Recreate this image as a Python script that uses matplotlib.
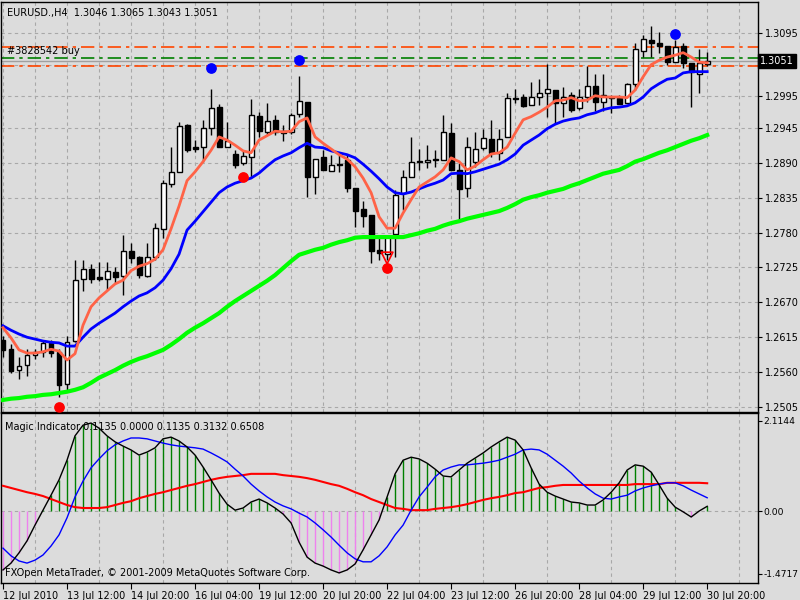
import matplotlib
matplotlib.use("Agg")
import matplotlib.pyplot as plt
import numpy as np

# ---------------- data (prices in pips, 1e-4) ----------------
opens = [12611,12596,12563,12571,12587,12592,12606,12592,12541,12609,
         12707,12723,12710,12707,12718,12712,12751,12742,12712,12742,
         12786,12857,12876,12950,12915,12915,12945,12978,12915,12904,
         12890,12899,12964,12939,12958,12940,12939,12967,12986,12868,
         12899,12877,12888,12895,12850,12817,12808,12753,12746,12778,
         12842,12868,12893,12891,12896,12895,12937,12879,12850,12891,
         12914,12928,12906,12931,12992,12994,12981,12994,13000,13005,
         12985,12997,12977,12994,13011,12986,12994,12992,12985,13015,
         13067,13084,13079,13074,13049,13074,13048,13030,13046]
highs = [12617,12604,12584,12596,12596,12611,12611,12596,12617,12737,
         12737,12730,12734,12734,12726,12776,12764,12743,12764,12795,
         12863,12915,12955,12951,12926,12958,13007,12983,12955,12910,
         12910,12991,12970,12985,12966,12950,12969,13027,12986,12896,
         12910,12902,12902,12902,12850,12830,12808,12772,12775,12847,
         12879,12931,12912,12918,12910,12966,12953,12890,12931,12939,
         12944,12958,12944,13000,13007,12999,13018,13022,13046,13005,
         13010,13002,13007,13043,13030,13030,12997,12997,13016,13079,
         13092,13106,13097,13074,13084,13079,13048,13070,13065]
lows = [12584,12558,12549,12554,12581,12584,12584,12521,12532,12607,
        12688,12701,12704,12689,12701,12682,12732,12708,12710,12737,
        12771,12852,12876,12907,12907,12891,12934,12915,12915,12882,
        12887,12868,12931,12934,12934,12925,12936,12962,12836,12841,
        12879,12877,12876,12844,12789,12789,12732,12737,12737,12742,
        12816,12868,12879,12882,12884,12895,12879,12800,12836,12884,
        12910,12899,12895,12931,12985,12978,12981,12981,12962,12953,
        12962,12970,12974,12986,12972,12972,12969,12983,12985,13005,
        13057,13057,13063,13044,13049,13040,12978,13000,13043]
closes = [12595,12562,12569,12587,12592,12606,12590,12539,12607,12705,
          12723,12707,12707,12719,12710,12751,12740,12713,12742,12787,
          12858,12876,12948,12910,12912,12945,12977,12915,12925,12887,
          12901,12966,12940,12956,12939,12937,12966,12988,12868,12896,
          12879,12887,12887,12850,12814,12806,12751,12748,12775,12839,
          12868,12891,12891,12895,12895,12939,12879,12849,12915,12912,
          12929,12906,12928,12992,12991,12980,12994,13000,13007,12985,
          12994,12974,12994,13011,12986,12997,12992,12983,13015,13070,
          13086,13079,13074,13049,13073,13048,13034,13048,13051]
ma_fast = [12630,12614,12595,12590,12590,12592,12596,12593,12579,12589,
           12634,12663,12677,12688,12699,12705,12720,12727,12731,12738,
           12753,12786,12822,12862,12876,12892,12910,12931,12926,12918,
           12909,12906,12926,12933,12940,12939,12940,12955,12961,12931,
           12921,12912,12903,12896,12884,12866,12843,12805,12787,12787,
           12811,12832,12852,12860,12868,12879,12898,12892,12879,12885,
           12895,12904,12906,12915,12937,12958,12963,12970,12978,12988,
           12989,12993,12988,12989,12996,12994,12994,12994,12993,13005,
           13026,13045,13052,13057,13060,13064,13057,13049,13048]
ma_mid = [12633,12626,12620,12615,12612,12609,12607,12606,12601,12601,
          12615,12628,12637,12645,12653,12663,12672,12680,12685,12693,
          12705,12723,12746,12784,12798,12813,12828,12843,12852,12858,
          12862,12866,12874,12885,12895,12901,12906,12914,12921,12915,
          12914,12909,12906,12903,12898,12888,12877,12865,12852,12843,
          12841,12844,12849,12854,12858,12863,12873,12874,12873,12876,
          12880,12884,12888,12895,12904,12918,12926,12934,12944,12951,
          12956,12959,12961,12966,12969,12974,12977,12978,12980,12985,
          12994,13007,13015,13022,13024,13032,13034,13034,13034]
ma_slow = [12516,12518,12519,12521,12522,12524,12525,12527,12529,12532,
           12536,12543,12551,12557,12563,12570,12576,12581,12585,12590,
           12595,12603,12612,12622,12630,12637,12645,12653,12663,12672,
           12680,12688,12696,12704,12713,12724,12735,12745,12749,12753,
           12756,12761,12765,12768,12772,12773,12773,12773,12773,12773,
           12773,12776,12779,12783,12786,12791,12795,12798,12802,12805,
           12808,12811,12814,12819,12825,12832,12836,12839,12843,12846,
           12849,12854,12858,12863,12868,12873,12876,12879,12885,12892,
           12896,12901,12906,12910,12915,12920,12925,12929,12934]
up_dots_idx = [26, 37, 84]
up_dots_px = [13040, 13052, 13093]
dn_dots_idx = [7, 30, 48]
dn_dots_px = [12505, 12868, 12724]
arrow_idx = [48]
arrow_px = [12740]
order_tp, order_open, order_sl, bid = 13073, 13056, 13043, 13051

ind_main = [-1.38,-1.22,-0.98,-0.70,-0.33,0.02,0.37,0.73,1.19,1.76,
            2.01,2.06,1.94,1.76,1.62,1.52,1.43,1.31,1.38,1.48,
            1.69,1.73,1.64,1.50,1.31,1.03,0.73,0.42,0.16,0.02,
            0.07,0.21,0.28,0.19,0.07,-0.07,-0.28,-0.73,-1.08,-1.22,
            -1.29,-1.38,-1.45,-1.38,-1.24,-0.91,-0.56,-0.21,0.33,0.87,
            1.19,1.26,1.22,1.12,0.98,0.82,0.80,0.96,1.12,1.24,
            1.36,1.50,1.62,1.73,1.66,1.43,1.01,0.63,0.44,0.35,
            0.28,0.21,0.19,0.14,0.14,0.26,0.44,0.66,0.96,1.08,
            1.05,0.91,0.61,0.30,0.09,-0.02,-0.14,0.00,0.11]
ind_signal = [-0.87,-1.05,-1.17,-1.22,-1.15,-1.03,-0.82,-0.56,-0.16,0.33,
              0.70,1.01,1.22,1.41,1.55,1.64,1.71,1.71,1.69,1.64,
              1.59,1.55,1.52,1.50,1.48,1.45,1.36,1.26,1.15,0.98,
              0.82,0.63,0.47,0.33,0.21,0.12,0.05,-0.05,-0.14,-0.28,
              -0.44,-0.61,-0.80,-0.98,-1.12,-1.19,-1.19,-1.05,-0.84,-0.56,
              -0.33,0.02,0.33,0.56,0.80,0.96,1.03,1.08,1.08,1.10,
              1.12,1.15,1.19,1.26,1.33,1.43,1.45,1.43,1.33,1.19,
              1.05,0.89,0.70,0.54,0.40,0.30,0.28,0.33,0.37,0.47,
              0.54,0.59,0.63,0.66,0.66,0.59,0.49,0.40,0.31]
ind_slow = [0.59,0.54,0.49,0.44,0.40,0.35,0.28,0.21,0.14,0.09,
            0.07,0.07,0.07,0.09,0.14,0.19,0.23,0.30,0.35,0.40,
            0.44,0.49,0.54,0.59,0.63,0.68,0.73,0.77,0.80,0.82,
            0.84,0.87,0.87,0.87,0.87,0.84,0.82,0.80,0.77,0.73,
            0.68,0.63,0.59,0.52,0.44,0.37,0.28,0.21,0.14,0.07,
            0.05,0.02,0.02,0.02,0.05,0.07,0.09,0.12,0.16,0.21,
            0.26,0.30,0.33,0.37,0.42,0.44,0.49,0.54,0.56,0.59,
            0.61,0.61,0.61,0.61,0.61,0.61,0.61,0.61,0.61,0.63,
            0.63,0.63,0.63,0.66,0.66,0.66,0.66,0.66,0.65]

price_ticks = [1.3095, 1.2995, 1.2945, 1.2890, 1.2835, 1.2780,
               1.2725, 1.2670, 1.2615, 1.2560, 1.2505]
ind_ticks = [2.1144, 0.0, -1.4717]
ind_tick_labels = ["2.1144", "0.00", "-1.4717"]
date_labels = ["12 Jul 2010", "13 Jul 12:00", "14 Jul 20:00", "16 Jul 04:00",
               "19 Jul 12:00", "20 Jul 20:00", "22 Jul 04:00", "23 Jul 12:00",
               "26 Jul 20:00", "28 Jul 04:00", "29 Jul 12:00", "30 Jul 20:00"]

# ---------------- drawing ----------------
BG = "#dcdcdc"
GRID = "#a8a8a8"
FS = 7
P = lambda v: np.asarray(v, dtype=float) / 10000.0

fig = plt.figure(figsize=(8, 6), dpi=100, facecolor=BG)
W, H = 800.0, 600.0
def box(x0, y0, x1, y1):
    return [x0 / W, 1 - y1 / H, (x1 - x0) / W, (y1 - y0) / H]
ax = fig.add_axes(box(1, 2, 758, 412))
ax2 = fig.add_axes(box(1, 413, 758, 583))
for a in (ax, ax2):
    a.set_facecolor(BG)
    for s in a.spines.values():
        s.set_color("black"); s.set_linewidth(1)

n = len(closes)
xs = np.arange(n)
xlim = (-0.25, 94.35)

o, h, l, c = P(opens), P(highs), P(lows), P(closes)
for i in range(n):
    ax.vlines(i, l[i], h[i], color="black", lw=1, zorder=3)
    lo, hi = min(o[i], c[i]), max(o[i], c[i])
    fc = "white" if c[i] >= o[i] else "black"
    ax.bar(i, max(hi - lo, 0.00002), bottom=lo, width=0.62, color=fc,
           edgecolor="black", linewidth=1, zorder=4)

ax.plot(xs, P(ma_slow), color="#00ff00", lw=3, zorder=5)
ax.plot(xs, P(ma_mid), color="#0000ff", lw=2, zorder=5)
ax.plot(xs, P(ma_fast), color="#ff6347", lw=2, zorder=6)

ax.scatter(up_dots_idx, P(up_dots_px), s=45, color="#0000ff", zorder=7)
ax.scatter(dn_dots_idx, P(dn_dots_px), s=45, color="#ff0000", zorder=7)
ax.scatter(arrow_idx, P(arrow_px), s=70, marker="v", facecolor="none",
           edgecolor="#ff0000", linewidth=1.2, zorder=7)

dd = (0, (8, 3, 2, 3))
ax.axhline(order_tp / 1e4, color="#ff4500", lw=1.2, ls=dd, zorder=2)
ax.axhline(order_sl / 1e4, color="#ff4500", lw=1.2, ls=dd, zorder=2)
ax.axhline(order_open / 1e4, color="#008000", lw=1.2, ls=dd, zorder=2)
ax.axhline(bid / 1e4, color="#a0a0a0", lw=1, zorder=2)
ax.text(0.008, order_open / 1e4 + 0.0002, "#3828542 buy", fontsize=FS,
        va="bottom", ha="left", transform=ax.get_yaxis_transform())

ax.set_xlim(*xlim)
ax.set_ylim(1.24970, 1.31439)
ax.yaxis.tick_right()
ax.set_yticks(price_ticks)
ax.set_yticklabels([f"{t:.4f}" for t in price_ticks], fontsize=FS)
ax.set_xticks(np.arange(0, n + 4, 4))
ax.set_xticklabels([])
ax.tick_params(axis="x", length=0)
ax.tick_params(axis="y", length=3, pad=2)
ax.grid(True, color=GRID, ls=(0, (3, 3)), lw=0.8, zorder=0)
ax.axhline(1.3045, color=GRID, ls=(0, (3, 3)), lw=0.8, zorder=0)
ax.set_axisbelow(True)
ax.text(1.003, bid / 1e4, f"{bid/1e4:.4f}", transform=ax.get_yaxis_transform(),
        fontsize=FS, color="white", va="center", ha="left",
        bbox=dict(boxstyle="square,pad=0.2", fc="black", ec="black"), zorder=10, clip_on=False)
ax.text(0.008, 0.985, "EURUSD.,H4  1.3046 1.3065 1.3043 1.3051", transform=ax.transAxes,
        fontsize=FS, va="top", ha="left")

# indicator panel
vals = np.asarray(ind_main)
cols = ["#008000" if v >= 0 else "#ee82ee" for v in vals]
ax2.vlines(xs, 0, vals, colors=cols, lw=1, zorder=2)
ax2.plot(xs, ind_slow, color="#ff0000", lw=1.5, zorder=3)
ax2.plot(xs, ind_signal, color="#0000ff", lw=1, zorder=4)
ax2.plot(xs, vals, color="black", lw=1, zorder=5)
ax2.axhline(0, color=GRID, ls=(0, (3, 3)), lw=0.8, zorder=0)
ax2.set_xlim(*xlim)
ax2.set_ylim(-1.686, 2.295)
ax2.yaxis.tick_right()
ax2.set_yticks(ind_ticks)
ax2.set_yticklabels(ind_tick_labels, fontsize=6.6)
ax2.tick_params(axis="y", length=3, pad=1)
ax2.set_xticks(np.arange(0, n + 4, 4), minor=True)
ax2.grid(True, axis="x", which="minor", color=GRID, ls=(0, (3, 3)), lw=0.8)
ax2.set_xticks(np.arange(0, len(date_labels) * 8, 8))
ax2.set_xticklabels(date_labels, fontsize=FS, ha="left")
ax2.tick_params(axis="x", which="major", length=4, pad=2)
ax2.tick_params(axis="x", which="minor", length=0)
ax2.text(0.005, 0.95, "Magic Indicator 0.1135 0.0000 0.1135 0.3132 0.6508",
         transform=ax2.transAxes, fontsize=FS, va="top", ha="left")
ax2.text(0.005, 0.03, "FXOpen MetaTrader, \u00a9 2001-2009 MetaQuotes Software Corp.",
         transform=ax2.transAxes, fontsize=FS, va="bottom", ha="left")

fig.savefig("out.png", dpi=100, facecolor=BG)
